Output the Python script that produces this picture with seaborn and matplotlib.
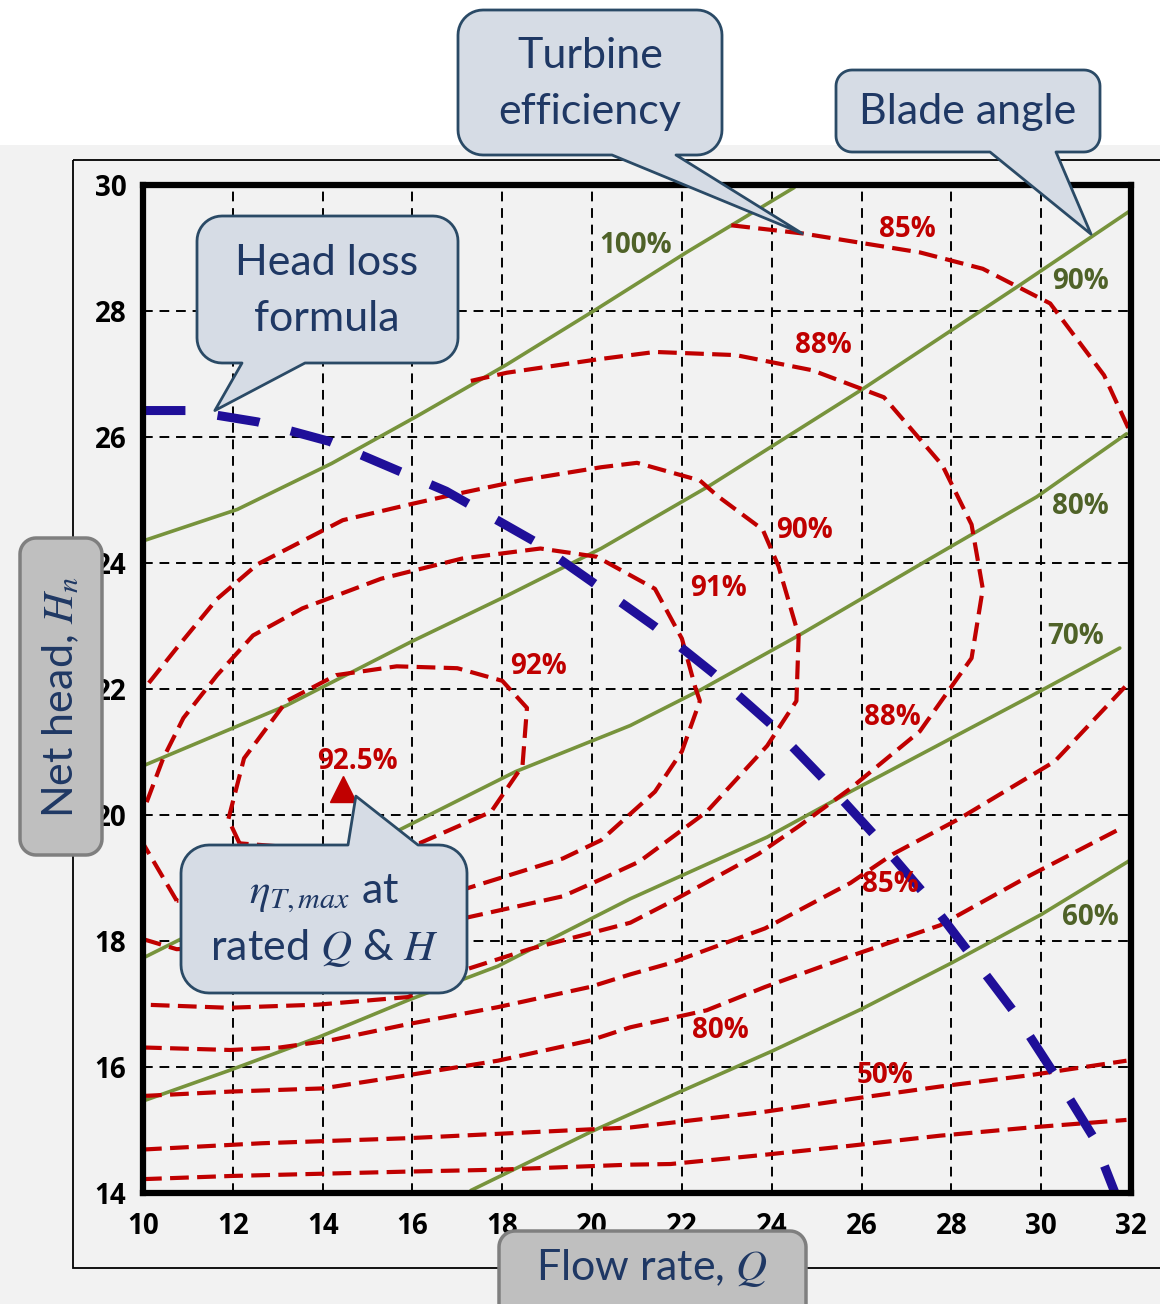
import numpy as np
import matplotlib
matplotlib.use("Agg")
import matplotlib.pyplot as plt
from matplotlib.patches import Polygon, Rectangle
import seaborn as sns

# ----------------- DATA -----------------
x_ticks = [10, 12, 14, 16, 18, 20, 22, 24, 26, 28, 30, 32]
y_ticks = [14, 16, 18, 20, 22, 24, 26, 28, 30]

# blade angle lines (green, solid)
blade100_q = [10.0, 12.1, 14.2, 16.1, 18.1, 20.1, 22.1, 24.5]
blade100_h = [24.35, 24.85, 25.58, 26.33, 27.15, 28.03, 28.93, 29.96]
blade90_q = [10.0, 13.2, 16.0, 18.1, 20.2, 22.6, 26.0, 29.5, 32.0]
blade90_h = [20.78, 21.74, 22.76, 23.48, 24.23, 25.22, 26.75, 28.40, 29.60]
blade80_q = [10.0, 15.7, 18.3, 20.85, 22.4, 24.6, 27.6, 29.9, 31.9]
blade80_h = [17.73, 19.76, 20.69, 21.42, 21.98, 22.85, 24.10, 25.05, 26.05]
blade70_q = [10.0, 11.9, 13.9, 15.9, 17.9, 20.85, 23.9, 25.75, 29.7, 31.75]
blade70_h = [15.46, 15.94, 16.47, 17.06, 17.60, 18.67, 19.65, 20.37, 21.86, 22.65]
blade60_q = [17.3, 20.0, 22.0, 24.0, 26.0, 28.0, 30.0, 32.0]
blade60_h = [14.04, 14.98, 15.62, 16.25, 16.92, 17.65, 18.42, 19.29]

# turbine efficiency contours (red, dashed)
eff85_top_q = [23.1, 24.7, 26.0, 27.3, 28.7, 30.2, 31.4, 32.0]
eff85_top_h = [29.36, 29.23, 29.08, 28.93, 28.67, 28.12, 26.98, 26.05]
eff88_q = [17.3, 18.1, 20.1, 21.4, 23.2, 24.9, 26.5, 27.8, 28.45, 28.7, 28.45, 27.3,
           25.75, 24.6, 23.7, 21.75, 20.85, 18.6, 17.2, 15.9, 13.9, 11.9, 10.0]
eff88_h = [26.89, 27.02, 27.23, 27.35, 27.30, 27.06, 26.63, 25.55, 24.61, 23.59, 22.49, 21.33,
           20.42, 19.82, 19.38, 18.62, 18.29, 17.87, 17.55, 17.11, 16.99, 16.94, 16.99]
eff90_q = [10.0, 10.75, 14.0, 17.2, 19.35, 20.2, 21.05, 22.55, 23.9, 24.55, 24.6, 24.15, 23.8,
           22.8, 22.4, 21.0, 20.2, 18.4, 16.75, 16.0, 14.45, 12.55, 11.65, 10.75, 10.0]
eff90_h = [18.03, 17.87, 18.0, 18.37, 18.71, 18.98, 19.26, 20.05, 21.10, 21.81, 22.85, 23.95, 24.53,
           25.06, 25.31, 25.59, 25.52, 25.31, 25.06, 24.94, 24.68, 23.98, 23.43, 22.65, 21.98]
eff91_q = [10.75, 10.0, 10.0, 10.45, 10.9, 11.65, 12.45, 13.55, 15.3, 17.1, 18.85, 20.1,
           21.4, 22.0, 22.3, 22.4, 22.0, 21.4, 20.2, 19.35, 17.1, 14.2, 10.75]
eff91_h = [18.64, 19.55, 20.05, 20.90, 21.54, 22.22, 22.85, 23.28, 23.75, 24.07, 24.23, 24.10,
           23.59, 22.80, 22.02, 21.81, 21.01, 20.37, 19.60, 19.31, 18.81, 18.67, 18.64]
eff92_q = [12.15, 11.9, 12.25, 13.2, 14.3, 15.65, 17.0, 18.0, 18.55, 18.45, 17.75, 16.15, 14.15, 12.15]
eff92_h = [19.55, 19.93, 20.90, 21.81, 22.22, 22.36, 22.33, 22.13, 21.70, 20.78, 20.05, 19.55, 19.44, 19.55]
eff85_low_q = [10.0, 11.95, 13.05, 14.15, 15.9, 17.9, 19.95, 20.85, 21.75, 23.85, 25.75, 26.7, 28.15, 30.3, 31.9]
eff85_low_h = [16.31, 16.27, 16.31, 16.42, 16.68, 16.95, 17.27, 17.47, 17.65, 18.20, 18.92, 19.38, 19.93, 20.85, 22.06]
eff80_q = [10.0, 11.95, 14.0, 15.9, 17.9, 19.95, 20.85, 22.55, 23.85, 25.75, 27.75, 29.75, 31.7]
eff80_h = [15.54, 15.61, 15.66, 15.87, 16.10, 16.42, 16.63, 16.90, 17.27, 17.76, 18.25, 19.04, 19.76]
eff50_q = [10.0, 12.65, 15.9, 19.95, 20.85, 23.75, 25.75, 27.75, 29.75, 31.9]
eff50_h = [14.69, 14.79, 14.87, 15.01, 15.04, 15.28, 15.49, 15.69, 15.87, 16.10]
eff_low_q = [10.0, 11.95, 15.9, 17.9, 20.85, 21.75, 23.75, 25.75, 27.75, 29.75, 31.9]
eff_low_h = [14.22, 14.27, 14.34, 14.37, 14.45, 14.46, 14.60, 14.75, 14.91, 15.04, 15.16]

# head loss curve (blue, long dashes)
headloss_q = [10.0, 11.0, 12.55, 14.15, 16.75, 18.7, 20.0, 21.4, 22.7, 23.95, 25.1, 26.25,
              27.35, 28.4, 29.4, 30.3, 31.15, 31.7]
headloss_h = [26.42, 26.42, 26.24, 25.93, 25.14, 24.35, 23.70, 22.99, 22.25, 21.46, 20.61, 19.71,
              18.79, 17.81, 16.87, 15.88, 14.90, 13.90]

# best efficiency point
bep_q = [14.45]
bep_h = [20.42]

# contour labels
red_labels = ["85%", "88%", "90%", "91%", "92%", "92.5%", "88%", "85%", "80%", "50%"]
red_label_q = [27.02, 25.14, 24.74, 22.81, 18.80, 14.77, 26.68, 26.64, 22.85, 26.53]
red_label_h = [29.30, 27.45, 24.51, 23.59, 22.36, 20.85, 21.54, 18.89, 16.58, 15.87]
green_labels = ["100%", "90%", "80%", "70%", "60%"]
green_label_q = [20.96, 30.87, 30.87, 30.76, 31.09]
green_label_h = [29.04, 28.47, 24.89, 22.84, 18.37]

# ----------------- STYLE -----------------
RED = "#c00000"
GREEN = "#77933c"
GREEN_TXT = "#4f6228"
BLUE = "#1f0f99"
NAVY = "#1f3864"
BG = "#f2f2f2"
BOLD_FONT = ["Open Sans", "Noto Sans", "DejaVu Sans"]

sns.set_theme(style="white")
plt.rcParams["font.family"] = ["Lato", "DejaVu Sans"]
plt.rcParams["mathtext.fontset"] = "stix"

W, H = 1160, 1304
fig = plt.figure(figsize=(W / 100, H / 100), dpi=100)
fig.patch.set_facecolor("white")

# ----------------- BACKGROUND -----------------
bg = fig.add_axes([0, 0, 1, 1], zorder=0)
bg.set_xlim(0, W)
bg.set_ylim(H, 0)
bg.axis("off")
bg.add_patch(Rectangle((0, 145), W, H - 145, fc=BG, ec="none"))
bg.add_patch(Rectangle((73, 160), W, 1108, fc="none", ec="black", lw=1.3))

# ----------------- MAIN AXES -----------------
ax = fig.add_axes([143 / W, 1 - 1193 / H, (1131 - 143) / W, (1193 - 185) / H], zorder=1)
ax.set_facecolor(BG)

green_lines = [(blade100_q, blade100_h), (blade90_q, blade90_h), (blade80_q, blade80_h),
               (blade70_q, blade70_h), (blade60_q, blade60_h)]
for q, h in green_lines:
    sns.lineplot(x=q, y=h, sort=False, estimator=None, color=GREEN, lw=2.6, ax=ax, zorder=2)

red_lines = [(eff85_top_q, eff85_top_h), (eff88_q, eff88_h), (eff90_q, eff90_h),
             (eff91_q, eff91_h), (eff92_q, eff92_h), (eff85_low_q, eff85_low_h),
             (eff80_q, eff80_h), (eff50_q, eff50_h), (eff_low_q, eff_low_h)]
for q, h in red_lines:
    sns.lineplot(x=q, y=h, sort=False, estimator=None, color=RED, lw=3.0,
                 linestyle=(0, (4.5, 2.0)), ax=ax, zorder=3)

sns.lineplot(x=headloss_q, y=headloss_h, sort=False, estimator=None, color=BLUE, lw=6.5,
             linestyle=(0, (4.7, 3.6)), ax=ax, zorder=4)
ax.plot(bep_q, bep_h, marker="^", color=RED, markersize=19, ls="none", zorder=5)

for txt, q, h in zip(red_labels, red_label_q, red_label_h):
    ax.text(q, h, txt, color=RED, fontsize=20, fontweight="bold", family=BOLD_FONT,
            ha="center", va="center", zorder=6)
for txt, q, h in zip(green_labels, green_label_q, green_label_h):
    ax.text(q, h, txt, color=GREEN_TXT, fontsize=20, fontweight="bold", family=BOLD_FONT,
            ha="center", va="center", zorder=6)

ax.set_xlim(10, 32)
ax.set_ylim(14, 30)
ax.set_xticks(x_ticks)
ax.set_yticks(y_ticks)
ax.set_xticklabels([str(t) for t in x_ticks], fontweight="bold", family=BOLD_FONT)
ax.set_yticklabels([str(t) for t in y_ticks], fontweight="bold", family=BOLD_FONT)
ax.tick_params(length=0, labelsize=20, labelcolor="black")
ax.tick_params(axis="x", pad=14)
ax.tick_params(axis="y", pad=12)
ax.set_xlabel("")
ax.set_ylabel("")
ax.set_axisbelow(True)
ax.grid(True, color="black", lw=1.4, linestyle=(0, (5, 3.5)))
for s in ax.spines.values():
    s.set_visible(True)
    s.set_color("black")
    s.set_linewidth(4.5)
    s.set_capstyle("projecting")
    s.set_zorder(7)

# ----------------- CALLOUTS -----------------
ov = fig.add_axes([0, 0, 1, 1], zorder=5)
ov.set_xlim(0, W)
ov.set_ylim(H, 0)
ov.axis("off")
ov.patch.set_alpha(0)


def to_px(q, h):
    """data point on the main axes -> overlay pixel coords"""
    return tuple(ov.transData.inverted().transform(ax.transData.transform((q, h))))


def callout(x0, y0, x1, y1, r, side=None, base=None, tip=None,
            fc="#d6dce5", ec="#2a4a66", lw=2.0):
    pts = []

    def arc(cx, cy, a0, a1):
        for a in np.radians(np.linspace(a0, a1, 12)):
            pts.append((cx + r * np.cos(a), cy + r * np.sin(a)))

    if side == "top":
        pts.extend([(base[0], y0), tip, (base[1], y0)])
    arc(x1 - r, y0 + r, -90, 0)
    arc(x1 - r, y1 - r, 0, 90)
    if side == "bottom":
        pts.extend([(base[1], y1), tip, (base[0], y1)])
    arc(x0 + r, y1 - r, 90, 180)
    arc(x0 + r, y0 + r, 180, 270)
    ov.add_patch(Polygon(pts, closed=True, fc=fc, ec=ec, lw=lw, joinstyle="round"))


FS = 31
callout(458, 10, 722, 155, 25, "bottom", (612, 676), to_px(24.68, 29.23))
ov.text(590, 84, "Turbine\nefficiency", color=NAVY, fontsize=FS, ha="center", va="center", linespacing=1.6)

callout(836, 70, 1100, 152, 16, "bottom", (990, 1056), to_px(31.11, 29.22))
ov.text(968, 112, "Blade angle", color=NAVY, fontsize=FS, ha="center", va="center")

callout(197, 216, 458, 363, 25, "bottom", (242, 305), to_px(11.6, 26.42))
ov.text(327, 291, "Head loss\nformula", color=NAVY, fontsize=FS, ha="center", va="center", linespacing=1.6)

callout(181, 845, 467, 993, 28, "top", (348, 418), to_px(14.74, 20.3))
ov.text(324, 921, "$\\eta_{T,max}$ at\nrated $Q$ & $H$", color=NAVY, fontsize=FS,
        ha="center", va="center", linespacing=1.35)

# axis label boxes
callout(20, 538, 102, 855, 16, fc="#bfbfbf", ec="#7f7f7f", lw=2.5)
ov.text(61, 697, "Net head, $H_n$", color=NAVY, fontsize=FS, rotation=90, ha="center", va="center")
callout(499, 1231, 806, 1340, 16, fc="#bfbfbf", ec="#7f7f7f", lw=2.5)
ov.text(652, 1268, "Flow rate, $Q$", color=NAVY, fontsize=FS, ha="center", va="center")

fig.savefig("out.png", dpi=100, facecolor=fig.get_facecolor())
